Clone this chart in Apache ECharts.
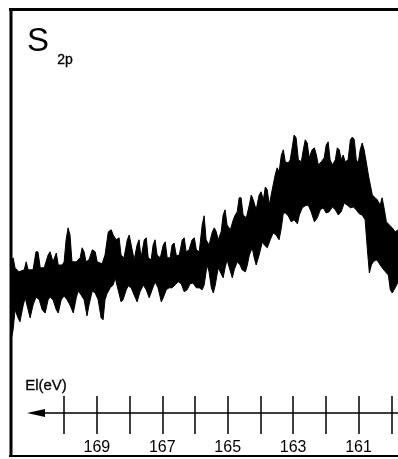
<!DOCTYPE html>
<html>
<head>
<meta charset="utf-8">
<script src="https://cdn.jsdelivr.net/npm/echarts@6/dist/echarts.min.js"></script>
<style>
  html, body { margin: 0; padding: 0; background: #fff; }
  #chart { width: 398px; height: 459px; }
</style>
</head>
<body>
<div id="chart"></div>
<script>
// S 2p photoelectron spectrum. The noisy trace is drawn as a solid band between
// its upper and lower envelopes (binding energy in eV, intensity in arb. units).
const upperEnergy = [171.62,171.56,171.50,171.38,171.22,171.16,171.10,170.95,170.86,170.80,
  170.73,170.61,170.49,170.43,170.34,170.24,170.18,170.06,170.00,169.94,
  169.88,169.82,169.76,169.63,169.51,169.45,169.39,169.33,169.24,169.14,
  169.05,168.99,168.84,168.75,168.65,168.56,168.50,168.41,168.32,168.26,
  168.17,168.07,168.01,167.95,167.86,167.77,167.71,167.65,167.55,167.49,
  167.43,167.34,167.28,167.22,167.16,167.06,166.97,166.91,166.85,166.76,
  166.70,166.64,166.57,166.48,166.39,166.33,166.27,166.18,166.09,166.02,
  165.96,165.87,165.78,165.72,165.66,165.57,165.47,165.41,165.35,165.29,
  165.20,165.14,165.08,165.02,164.92,164.83,164.77,164.71,164.65,164.59,
  164.53,164.43,164.34,164.28,164.22,164.13,164.04,163.98,163.91,163.85,
  163.79,163.73,163.64,163.55,163.49,163.43,163.36,163.30,163.24,163.15,
  163.09,163.03,162.97,162.91,162.84,162.75,162.69,162.63,162.57,162.51,
  162.42,162.35,162.29,162.23,162.14,162.05,161.99,161.93,161.87,161.80,
  161.71,161.65,161.59,161.53,161.47,161.41,161.32,161.25,161.19,161.13,
  161.07,161.01,160.95,160.89,160.83,160.76,160.70,160.64,160.58,160.49,
  160.43,160.34,160.28,160.21,160.15,160.06,159.97,159.88,159.79];
const upperCounts = [37.8,38.8,36.3,35.3,35.8,37.8,35.8,35.8,40.3,40.3,
  36.3,36.3,39.5,40.3,37.8,40.0,37.0,37.0,37.8,43.3,
  46.3,44.5,37.8,37.8,38.8,41.3,40.3,37.8,38.3,40.8,
  40.3,37.8,37.3,39.5,45.3,45.8,44.5,43.3,43.8,39.5,
  38.8,43.3,44.5,42.0,38.3,42.0,43.3,38.8,43.3,43.8,
  38.8,38.3,42.0,43.3,39.5,38.8,42.0,42.8,38.8,38.8,
  42.0,42.5,39.3,39.5,43.3,43.8,40.3,40.8,43.3,43.8,
  40.8,40.3,47.0,49.3,43.3,42.0,45.3,46.3,45.3,43.3,
  45.3,49.5,50.8,47.0,45.8,48.3,49.5,50.3,53.8,53.8,
  49.5,48.8,52.0,54.5,53.3,50.8,54.5,55.3,53.3,56.5,
  55.8,52.0,55.8,59.5,61.3,60.3,64.5,65.8,62.8,62.5,
  63.3,66.3,69.5,68.8,63.3,62.8,65.8,68.3,67.5,63.8,
  65.8,66.3,64.5,62.0,62.8,63.8,67.0,67.8,63.3,62.0,
  63.3,66.3,65.8,63.3,64.5,62.8,63.3,68.3,69.0,68.3,
  63.3,62.5,65.8,67.5,65.8,62.5,59.5,57.0,54.5,53.8,
  53.3,52.0,53.8,50.8,47.8,47.0,46.3,45.3,45.8];
const lowerEnergy = [171.62,171.56,171.50,171.41,171.35,171.25,171.19,171.10,171.04,170.95,
  170.86,170.76,170.67,170.58,170.49,170.43,170.34,170.24,170.18,170.09,
  170.00,169.91,169.82,169.72,169.63,169.57,169.48,169.39,169.30,169.24,
  169.14,169.05,168.96,168.87,168.81,168.75,168.69,168.59,168.50,168.44,
  168.35,168.26,168.20,168.10,168.04,167.95,167.86,167.77,167.68,167.58,
  167.49,167.40,167.31,167.22,167.13,167.03,166.97,166.88,166.79,166.70,
  166.61,166.51,166.42,166.33,166.24,166.15,166.06,165.96,165.87,165.78,
  165.72,165.63,165.57,165.50,165.44,165.38,165.29,165.23,165.14,165.08,
  165.02,164.95,164.86,164.80,164.71,164.62,164.56,164.46,164.40,164.34,
  164.25,164.19,164.13,164.04,163.94,163.88,163.79,163.70,163.61,163.52,
  163.43,163.36,163.30,163.24,163.15,163.06,162.97,162.87,162.81,162.72,
  162.63,162.54,162.45,162.35,162.26,162.17,162.08,161.99,161.90,161.80,
  161.71,161.62,161.53,161.44,161.35,161.25,161.16,161.07,160.98,160.89,
  160.80,160.73,160.67,160.61,160.55,160.46,160.40,160.34,160.28,160.18,
  160.09,160.03,159.97,159.88,159.79];
const lowerCounts = [18.3,20.8,25.8,23.8,22.8,27.0,28.8,25.8,23.8,27.0,
  29.0,28.3,25.8,25.0,28.3,29.0,28.3,25.8,25.0,28.3,
  29.3,28.3,27.0,25.0,28.8,30.5,29.5,28.3,24.3,27.0,
  30.5,30.0,28.3,23.8,23.3,28.3,29.8,31.3,32.0,33.8,
  30.8,27.8,28.3,30.8,31.8,31.3,29.5,27.8,30.3,32.0,
  30.8,28.8,30.8,32.8,31.3,27.8,28.8,30.8,31.3,31.3,
  32.0,32.8,32.3,30.3,30.8,32.3,32.5,31.3,31.3,30.8,
  32.0,37.0,35.3,31.3,30.0,32.0,36.3,35.3,33.8,36.3,
  38.3,36.3,33.8,35.8,37.8,37.0,35.8,35.3,37.0,39.5,
  41.3,38.8,37.0,39.5,42.8,42.0,41.3,43.3,45.0,44.5,
  43.3,46.3,50.0,50.0,49.3,47.8,48.3,47.3,49.5,51.3,
  51.8,52.0,50.3,47.8,48.8,50.8,51.3,50.0,50.3,51.5,
  50.8,49.5,50.3,52.5,52.0,51.3,51.5,50.8,49.8,49.5,
  48.3,40.8,35.0,37.0,37.8,38.3,37.8,37.0,36.3,35.3,
  34.5,30.8,30.0,31.3,32.8];

const tickEnergies = [170, 169, 168, 167, 166, 165, 164, 163, 162, 161, 160];
const labelEnergies = [169, 167, 165, 163, 161];

const titleMain = 'S';
const titleSub = '2p';
const axisName = 'El(eV)';

const FONT = '"Liberation Sans", Arial, Helvetica, sans-serif';

const chart = echarts.init(document.getElementById('chart'), null, { renderer: 'canvas' });

const energyAxisBase = {
  type: 'value',
  gridIndex: 0,
  position: 'bottom',
  inverse: true,
  min: 159,
  max: 170.86,
  splitLine: { show: false },
  axisPointer: { show: false }
};

chart.setOption({
  backgroundColor: '#fff',
  animation: false,
  grid: { left: 36, top: 13, width: 388, height: 400, outerBoundsMode: 'none', containLabel: false },
  xAxis: [
    Object.assign({}, energyAxisBase, {
      axisLine: {
        show: true,
        onZero: false,
        symbol: ['triangle', 'none'],
        symbolSize: [8, 18],
        lineStyle: { color: '#000', width: 1.5 }
      },
      axisTick: {
        show: true,
        inside: false,
        length: 21,
        customValues: tickEnergies,
        lineStyle: { color: '#000', width: 1.5 }
      },
      axisLabel: {
        show: true,
        customValues: labelEnergies,
        margin: 27,
        color: '#000',
        fontFamily: FONT,
        fontSize: 16
      }
    }),
    Object.assign({}, energyAxisBase, {
      axisLine: { show: false, onZero: false },
      axisTick: {
        show: true,
        inside: true,
        length: 17,
        customValues: tickEnergies,
        lineStyle: { color: '#000', width: 1.5 }
      },
      axisLabel: { show: false }
    })
  ],
  yAxis: { type: 'value', min: 0, max: 100, show: false },
  series: [{
    type: 'custom',
    xAxisIndex: 0,
    yAxisIndex: 0,
    clip: false,
    data: [[165, 40]],
    renderItem: function (params, api) {
      const pts = [];
      for (let i = 0; i < upperEnergy.length; i++) {
        pts.push(api.coord([upperEnergy[i], upperCounts[i]]));
      }
      for (let i = lowerEnergy.length - 1; i >= 0; i--) {
        pts.push(api.coord([lowerEnergy[i], lowerCounts[i]]));
      }
      return {
        type: 'polygon',
        shape: { points: pts },
        style: { fill: '#000', stroke: '#000', lineWidth: 1, lineJoin: 'round' }
      };
    }
  }],
  graphic: [
    // panel frame (left, top and bottom edges)
    { type: 'line', shape: { x1: 11, y1: 8, x2: 11, y2: 457 }, style: { stroke: '#000', lineWidth: 3 } },
    { type: 'line', shape: { x1: 9, y1: 9.5, x2: 398, y2: 9.5 }, style: { stroke: '#000', lineWidth: 3 } },
    { type: 'line', shape: { x1: 9, y1: 456, x2: 398, y2: 456 }, style: { stroke: '#000', lineWidth: 2 } },
    // title
    { type: 'text', left: 27, top: 25, style: { text: titleMain, font: '33px ' + FONT, fill: '#000' } },
    { type: 'text', left: 57, top: 53, style: { text: titleSub, font: '14px ' + FONT, fill: '#000', stroke: '#000', lineWidth: 0.3 } },
    // axis caption
    { type: 'text', left: 25, top: 378, style: { text: axisName, font: '15px ' + FONT, fill: '#000', stroke: '#000', lineWidth: 0.3 } }
  ]
});
</script>
</body>
</html>
